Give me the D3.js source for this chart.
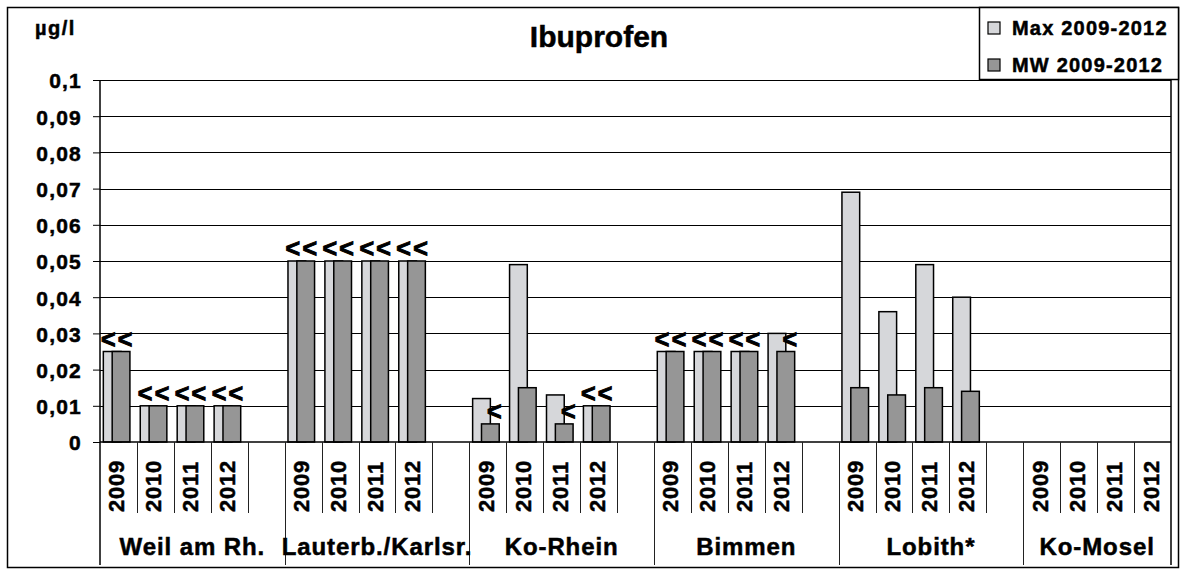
<!DOCTYPE html>
<html>
<head>
<meta charset="utf-8">
<script src="https://cdn.jsdelivr.net/npm/d3@7"></script>
<style>
  body { margin: 0; background: #fff; }
  svg { display: block; font-family: "Liberation Sans", Arial, sans-serif; font-weight: bold; }
  svg text { fill: #000; stroke: #000; stroke-width: 0.5px; }
</style>
</head>
<body>
<div id="chart"></div>
<script>
/*
  Ibuprofen - Max / MW 2009-2012
*/

var stations = ["Weil am Rh.", "Lauterb./Karlsr.", "Ko-Rhein", "Bimmen", "Lobith*", "Ko-Mosel"];
var years = ["2009", "2010", "2011", "2012"];
var seriesNames = ["Max 2009-2012", "MW 2009-2012"];

// one entry per station and year, in the order of stations x years
var maxValues = [0.025, 0.01, 0.01, 0.01,
                 0.05, 0.05, 0.05, 0.05,
                 0.012, 0.049, 0.013, 0.01,
                 0.025, 0.025, 0.025, 0.03,
                 0.069, 0.036, 0.049, 0.04,
                 null, null, null, null];
var mwValues = [0.025, 0.01, 0.01, 0.01,
                0.05, 0.05, 0.05, 0.05,
                0.005, 0.015, 0.005, 0.01,
                0.025, 0.025, 0.025, 0.025,
                0.015, 0.013, 0.015, 0.014,
                null, null, null, null];
// "<" = below limit of quantification
var maxLabels = ["<", "<", "<", "<",
                 "<", "<", "<", "<",
                 "", "", "", "<",
                 "<", "<", "<", "",
                 "", "", "", "",
                 "", "", "", ""];
var mwLabels = ["<", "<", "<", "<",
                "<", "<", "<", "<",
                "<", "", "<", "<",
                "<", "<", "<", "<",
                "", "", "", "",
                "", "", "", ""];
var yTicks = [0, 0.01, 0.02, 0.03, 0.04, 0.05, 0.06, 0.07, 0.08, 0.09, 0.1];

var width = 1182, height = 570;
var plot = {left: 100, right: 1171, top: 80, bottom: 442};
var colors = ["#d6d7da", "#969696"];

// build the category slots: 4 years per station, an empty slot between stations
var slots = [];
stations.forEach(function(s, g){
  years.forEach(function(yr, j){
    var k = g * years.length + j;
    slots.push({key: s + "|" + yr, station: s, year: yr, max: maxValues[k], mw: mwValues[k],
                maxLabel: maxLabels[k], mwLabel: mwLabels[k]});
  });
  if(g < stations.length - 1) slots.push({key: s + "|gap", station: s, year: null});
});

var x = d3.scaleBand()
  .domain(slots.map(function(d){ return d.key; }))
  .range([plot.left, plot.right])
  .padding(0);
var step = x.step();

var y = d3.scaleLinear().domain([0, 0.1]).range([plot.bottom, plot.top]);

var svg = d3.select("#chart").append("svg")
  .attr("width", width)
  .attr("height", height);

// chart border
svg.append("rect")
  .attr("x", 7.5).attr("y", 7.5)
  .attr("width", 1171).attr("height", 560)
  .style("fill", "none")
  .style("stroke", "#000")
  .style("stroke-width", "1.5px");

// gridlines
svg.append("g").selectAll("line")
  .data(yTicks.slice(1))
  .enter().append("line")
  .attr("x1", plot.left).attr("x2", plot.right)
  .attr("y1", function(d){ return Math.round(y(d)) + 0.5; })
  .attr("y2", function(d){ return Math.round(y(d)) + 0.5; })
  .style("stroke", "#000")
  .style("stroke-width", "1px");

// Y axis
var yAxis = svg.append("g")
  .attr("transform", "translate(" + plot.left + ",0)")
  .call(d3.axisLeft(y)
    .tickValues(yTicks)
    .tickSize(7)
    .tickPadding(11)
    .tickFormat(function(d){ return d === 0 ? "0" : String(+d.toFixed(2)).replace(".", ","); }));
yAxis.select(".domain").remove();
yAxis.selectAll(".tick line").style("stroke", "#000");
yAxis.selectAll(".tick text")
  .attr("dy", "0.38em")
  .style("font-family", "'Liberation Sans', Arial, sans-serif")
  .style("font-weight", "bold")
  .style("font-size", "21px")
  .style("letter-spacing", "1.2px")
  .style("fill", "#000");

// bars
var bars = svg.append("g").selectAll("g")
  .data(slots.filter(function(d){ return d.year !== null; }))
  .enter().append("g");

bars.filter(function(d){ return d.max !== null; }).append("rect")
  .attr("x", function(d){ return x(d.key) + step * 0.09; })
  .attr("y", function(d){ return y(d.max); })
  .attr("width", step * 0.48)
  .attr("height", function(d){ return y(0) - y(d.max); })
  .style("fill", colors[0])
  .style("stroke", "#000")
  .style("stroke-width", "1.5px");

bars.filter(function(d){ return d.mw !== null; }).append("rect")
  .attr("x", function(d){ return x(d.key) + step * 0.33; })
  .attr("y", function(d){ return y(d.mw); })
  .attr("width", step * 0.48)
  .attr("height", function(d){ return y(0) - y(d.mw); })
  .style("fill", colors[1])
  .style("stroke", "#000")
  .style("stroke-width", "1.5px");

// "<" labels
bars.filter(function(d){ return d.maxLabel; }).append("text")
  .attr("x", function(d){ return x(d.key) + step * 0.33 - 4; })
  .attr("y", function(d){ return y(d.max) - 4; })
  .style("text-anchor", "middle")
  .style("font-size", "25px")
  .style("stroke-width", "1px")
  .text(function(d){ return d.maxLabel; });

bars.filter(function(d){ return d.mwLabel; }).append("text")
  .attr("x", function(d){ return x(d.key) + step * 0.57 + 4; })
  .attr("y", function(d){ return y(d.mw) - 4; })
  .style("text-anchor", "middle")
  .style("font-size", "25px")
  .style("stroke-width", "1px")
  .text(function(d){ return d.mwLabel; });

// X axis line
svg.append("line")
  .attr("x1", plot.left).attr("x2", plot.right)
  .attr("y1", plot.bottom).attr("y2", plot.bottom)
  .style("stroke", "#000")
  .style("stroke-width", "1.5px");

// left and right edges of the plot, down through the category area
[plot.left, plot.right].forEach(function(px){
  svg.append("line")
    .attr("x1", px).attr("x2", px)
    .attr("y1", plot.top).attr("y2", 565)
    .style("stroke", "#000")
    .style("stroke-width", "1.5px");
});

// category separators: short ones between years, long ones between stations
var bounds = d3.range(1, slots.length);
svg.append("g").selectAll("line")
  .data(bounds)
  .enter().append("line")
  .attr("x1", function(i){ return Math.round(plot.left + i * step) + 0.5; })
  .attr("x2", function(i){ return Math.round(plot.left + i * step) + 0.5; })
  .attr("y1", plot.bottom)
  .attr("y2", function(i){ return i % (years.length + 1) === 0 ? 565 : 513; })
  .style("stroke", "#222")
  .style("stroke-width", "1px");

// year labels
svg.append("g").selectAll("text")
  .data(slots.filter(function(d){ return d.year !== null; }))
  .enter().append("text")
  .attr("transform", function(d){ return "translate(" + (x(d.key) + step / 2 + 6) + ",512) rotate(-90)"; })
  .style("text-anchor", "start")
  .style("font-size", "22px")
  .style("letter-spacing", "0.8px")
  .text(function(d){ return d.year; });

// station labels
svg.append("g").selectAll("text")
  .data(stations)
  .enter().append("text")
  .attr("x", function(s, g){
    var first = x(s + "|" + years[0]),
        n = g < stations.length - 1 ? years.length + 1 : years.length;
    return first + n * step / 2;
  })
  .attr("y", 555)
  .style("text-anchor", "middle")
  .style("font-size", "24px")
  .style("letter-spacing", "0.9px")
  .text(function(s){ return s; });

// title and unit
svg.append("text")
  .attr("x", 599).attr("y", 47)
  .style("text-anchor", "middle")
  .style("font-size", "30px")
  .text("Ibuprofen");

svg.append("text")
  .attr("x", 35).attr("y", 35)
  .style("font-size", "20px")
  .style("letter-spacing", "1.5px")
  .text("µg/l");

// legend
var legend = svg.append("g");
legend.append("rect")
  .attr("x", 979.5).attr("y", 7.5)
  .attr("width", 199).attr("height", 72)
  .style("fill", "#fff")
  .style("stroke", "#000")
  .style("stroke-width", "1.5px");

var items = legend.selectAll(".item")
  .data(seriesNames)
  .enter().append("g")
  .attr("class", "item")
  .attr("transform", function(d, i){ return "translate(988," + (22 + i * 37) + ")"; });

items.append("rect")
  .attr("width", 12).attr("height", 12)
  .style("fill", function(d, i){ return colors[i]; })
  .style("stroke", "#000")
  .style("stroke-width", "1.2px");

items.append("text")
  .attr("x", 24).attr("y", 13)
  .style("font-size", "20px")
  .style("letter-spacing", "1.2px")
  .text(function(d){ return d; });
</script>
</body>
</html>
